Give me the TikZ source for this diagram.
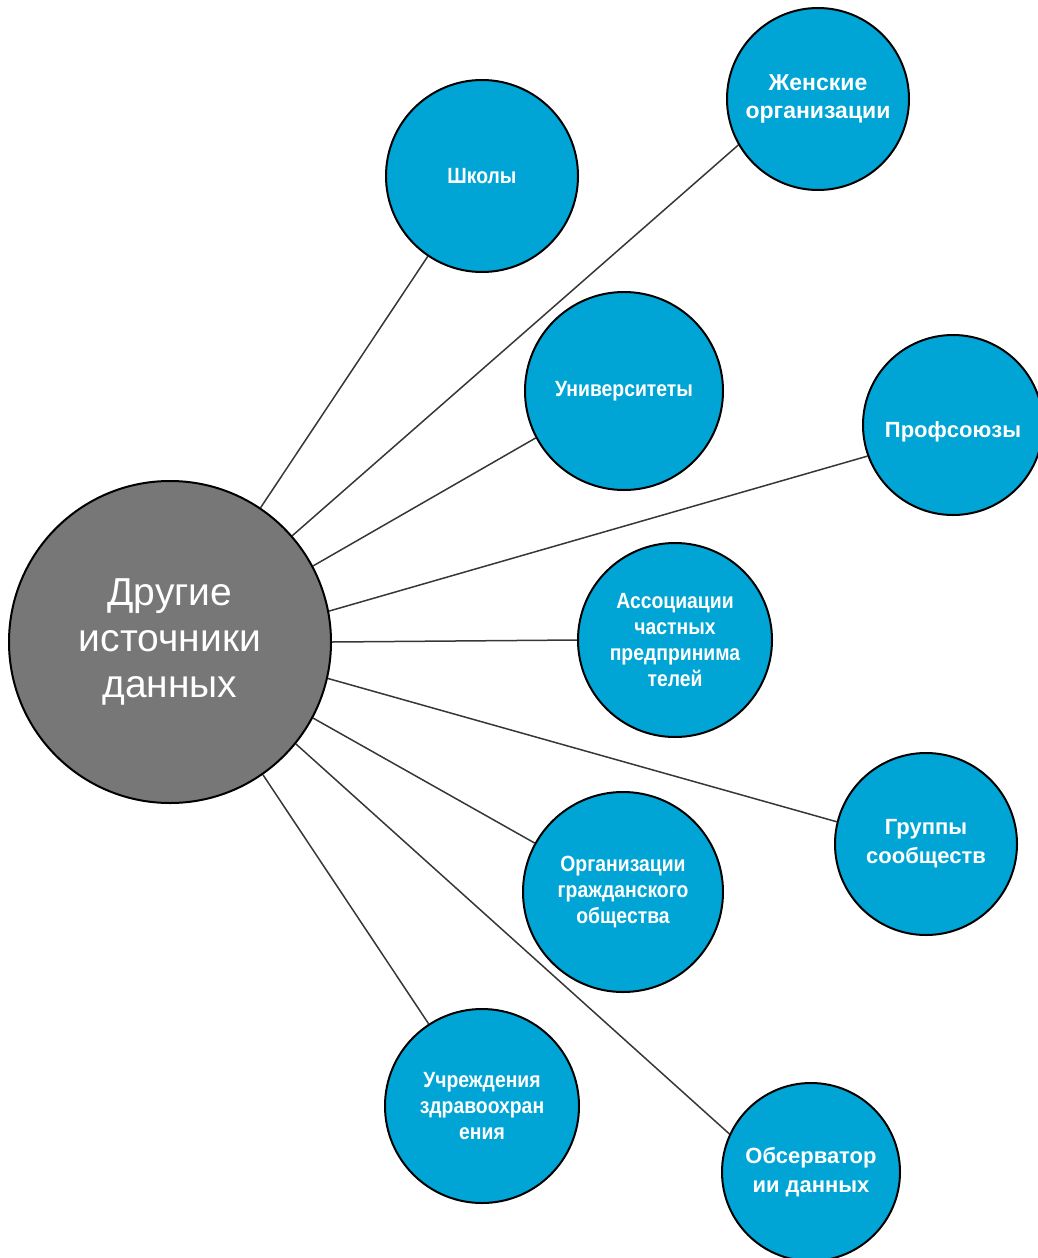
\documentclass[tikz,border=0pt]{standalone}
\usepackage{fontspec}
\setmainfont{Liberation Sans}
\newfontfamily\narrowfont[FakeStretch=0.88]{Liberation Sans}
\usetikzlibrary{backgrounds}
\definecolor{bub}{RGB}{0,165,213}
\definecolor{hub}{RGB}{119,119,119}
\definecolor{edge}{RGB}{55,55,55}
\begin{document}
\begin{tikzpicture}[x=1pt,y=-1pt,
  sat/.style={circle,draw=black,line width=2pt,fill=bub,text=white,inner sep=0pt,align=center},
  narrowtxt/.style={font=\narrowfont\bfseries\fontsize{22}{26}\selectfont},
  widetxt/.style={font=\bfseries\fontsize{22}{29}\selectfont},
  widebold/.style={font=\bfseries\fontsize{23}{28}\selectfont},
  hubc/.style={circle,draw=black,line width=2pt,fill=hub,text=white,inner sep=0pt,align=center,
    minimum size=322pt,font=\fontsize{39}{46}\selectfont},
  link/.style={draw=edge,line width=1.5pt}]
\useasboundingbox (0,0) rectangle (1037,1258);
\node[hubc] (c) at (170,642) {Другие\\источники\\данных};
\node[sat,narrowtxt,minimum size=192pt] (s1) at (482,176) {Школы};
\node[sat,widebold,minimum size=182pt] (s2) at (818,99) {Женские\\организации};
\node[sat,narrowtxt,minimum size=198pt] (s3) at (624,391) {Университеты};
\node[sat,widetxt,minimum size=180pt] (s4) at (953,425) {\raisebox{-7pt}[16pt][5pt]{Профсоюзы}};
\node[sat,narrowtxt,minimum size=194pt] (s5) at (675,640) {Ассоциации\\частных\\предпринима\\телей};
\node[sat,widetxt,minimum size=182pt] (s6) at (926,844) {Группы\\сообществ};
\node[sat,narrowtxt,minimum size=200pt] (s7) at (623,892) {Организации\\гражданского\\общества};
\node[sat,narrowtxt,minimum size=194pt] (s8) at (482,1106) {Учреждения\\здравоохран\\ения};
\node[sat,widetxt,minimum size=178pt] (s9) at (811,1172) {Обсерватор\\ии данных};
\begin{scope}[on background layer]
\draw[link] (c.56.1) -- (s1.236.8);
\draw[link] (c.41.5) -- (s2.210.6);
\draw[link] (c.28.9) -- (s3.208.3);
\draw[link] (c.11.1) -- (s4.200.6);
\draw[link] (c.0) -- (s5.180);
\draw[link] (c.-13.2) -- (s6.166.4);
\draw[link] (c.-28.3) -- (s7.151);
\draw[link] (c.-39.6) -- (s9.155.6);
\draw[link] (c.-55.7) -- (s8.123.2);
\end{scope}
\end{tikzpicture}
\end{document}
